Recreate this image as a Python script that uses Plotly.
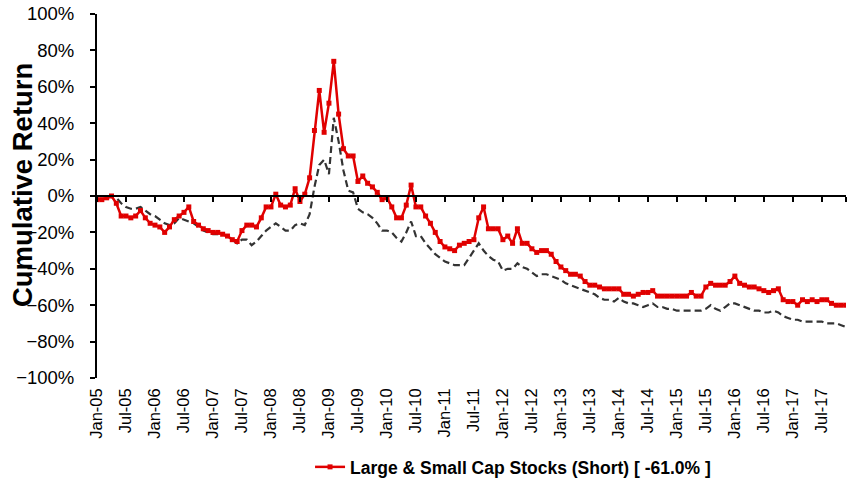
import plotly.graph_objects as go

tick_labels = ["Jan-05", "Jul-05", "Jan-06", "Jul-06", "Jan-07", "Jul-07", "Jan-08", "Jul-08",
               "Jan-09", "Jul-09", "Jan-10", "Jul-10", "Jan-11", "Jul-11", "Jan-12", "Jul-12",
               "Jan-13", "Jul-13", "Jan-14", "Jul-14", "Jan-15", "Jul-15", "Jan-16", "Jul-16",
               "Jan-17", "Jul-17"]

# monthly cumulative return (%), Jan-05 .. Dec-17
red_short = [-2, -2, -1, 0, -4, -11, -11, -12, -11, -8,
             -12, -15, -16, -17, -20, -17, -13, -11, -9, -6,
             -14, -16, -18, -19, -20, -20, -21, -22, -24, -25,
             -19, -16, -16, -17, -12, -6, -6, 1, -5, -6,
             -5, 4, -3, 1, 10, 36, 58, 35, 51, 74,
             45, 26, 22, 22, 8, 11, 7, 5, 2, -2,
             -1, -6, -12, -12, -5, 6, -6, -6, -11, -15,
             -20, -25, -28, -29, -30, -27, -26, -25, -24, -12,
             -6, -18, -18, -18, -24, -22, -26, -18, -26, -26,
             -29, -31, -30, -30, -32, -36, -39, -41, -43, -43,
             -44, -47, -49, -49, -50, -51, -51, -51, -51, -54,
             -54, -55, -54, -53, -53, -52, -55, -55, -55, -55,
             -55, -55, -55, -53, -55, -55, -50, -48, -49, -49,
             -49, -47, -44, -48, -49, -50, -50, -51, -52, -53,
             -52, -51, -57, -58, -58, -60, -57, -58, -57, -58,
             -57, -57, -59, -60, -60, -60]

benchmark = [-2, -2, -1, 0, -1, -4, -6, -7, -7, -6,
             -8, -10, -11, -13, -15, -16, -15, -12, -13, -14,
             -15, -17, -19, -20, -21, -21, -21, -22, -24, -26,
             -24, -24, -27, -25, -22, -19, -17, -15, -17, -19,
             -19, -16, -15, -16, -10, 5, 17, 20, 12, 43,
             30, 14, 3, 2, -7, -9, -10, -12, -15, -19,
             -19, -20, -23, -25, -20, -14, -22, -22, -26, -29,
             -32, -34, -36, -37, -38, -38, -38, -34, -30, -26,
             -30, -33, -35, -36, -41, -40, -40, -37, -39, -40,
             -42, -44, -43, -43, -44, -45, -46, -48, -49, -50,
             -51, -52, -53, -54, -56, -57, -57, -58, -56, -58,
             -59, -59, -60, -61, -60, -59, -61, -61, -62, -62,
             -63, -63, -63, -63, -63, -63, -62, -60, -62, -63,
             -61, -59, -59, -60, -61, -62, -63, -63, -64, -64,
             -63, -64, -66, -67, -68, -68, -69, -69, -69, -69,
             -69, -70, -70, -70, -71, -72]

months = list(range(len(red_short)))
tick_pos = [6 * i for i in range(len(tick_labels))]

fig = go.Figure()
fig.add_trace(go.Scatter(
    x=months, y=benchmark, mode="lines", showlegend=False,
    line=dict(color="#333333", width=2.2, dash="7px,4px"), hoverinfo="skip"))
fig.add_trace(go.Scatter(
    x=months, y=red_short, mode="lines+markers",
    name="<b>Large & Small Cap Stocks (Short) [ -61.0% ]</b>",
    line=dict(color="#E00000", width=2.5),
    marker=dict(symbol="square", size=5, color="#E00000")))
fig.add_trace(go.Scatter(x=[0, months[-1]], y=[None, None], xaxis="x2",
                         showlegend=False, hoverinfo="skip", mode="lines"))

font_family = "Liberation Sans, Arial, sans-serif"
fig.update_layout(
    width=848, height=482,
    margin=dict(l=97, r=2, t=14, b=104, autoexpand=False),
    paper_bgcolor="white", plot_bgcolor="white",
    font=dict(family=font_family, color="black"),
    xaxis=dict(range=[0, months[-1]], anchor="free", position=0.5,
               showline=True, linecolor="black", linewidth=2,
               ticks="outside", ticklen=5, tickwidth=2, tickcolor="black",
               tickvals=tick_pos + [months[-1]], showticklabels=False,
               showgrid=False, zeroline=False, automargin=False),
    xaxis2=dict(range=[0, months[-1]], overlaying="x", anchor="y", side="bottom",
                showline=False, showgrid=False, zeroline=False, ticks="",
                tickvals=tick_pos, ticktext=tick_labels, tickangle=-90,
                automargin=False, ticklabelstandoff=6,
                tickfont=dict(size=16.5, family=font_family, color="black")),
    yaxis=dict(range=[-100, 100], dtick=20, ticksuffix="%",
               showline=True, linecolor="black", linewidth=2,
               ticks="outside", ticklen=5, tickwidth=2, tickcolor="black",
               showgrid=False, zeroline=False, automargin=False,
               ticklabelstandoff=12, ticklabeloverflow="allow",
               tickfont=dict(size=18.5, family=font_family, color="black")),
    legend=dict(orientation="h", xref="container", yref="container",
                x=0.605, xanchor="center", y=1 - 467 / 482, yanchor="middle",
                font=dict(size=17.5, family=font_family, color="black"),
                bgcolor="rgba(0,0,0,0)"),
    annotations=[dict(text="<b>Cumulative Return</b>", textangle=-90,
                      xref="paper", yref="paper", x=-0.1001, y=0.53,
                      xanchor="center", yanchor="middle", showarrow=False,
                      font=dict(size=27.5, family=font_family, color="black"))],
)

fig.write_html("out.html", config={"displayModeBar": False},
               post_script="document.body.style.margin='0';document.body.style.overflow='hidden';")
